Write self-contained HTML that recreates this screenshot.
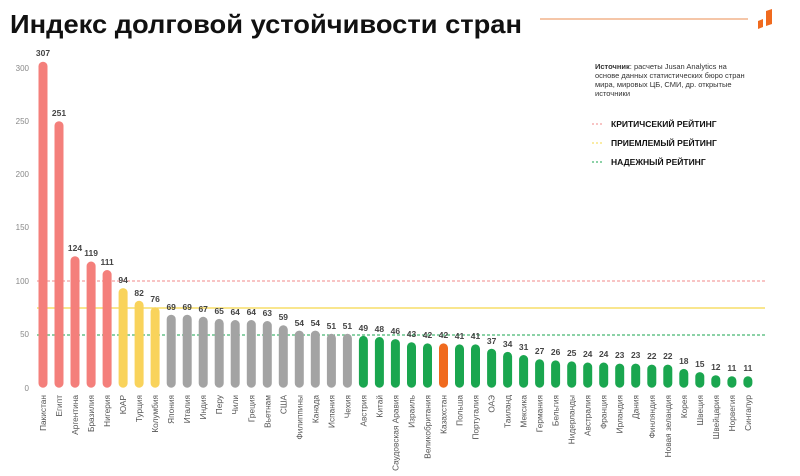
<!DOCTYPE html>
<html><head><meta charset="utf-8"><style>
html,body{margin:0;padding:0;background:#fff;}
svg{display:block;font-family:"Liberation Sans","Noto Sans CJK SC",sans-serif;}
</style></head><body>
<svg width="800" height="476" viewBox="0 0 800 476" xmlns="http://www.w3.org/2000/svg">
<text x="10" y="33" font-size="26" font-weight="bold" fill="#111" textLength="512" lengthAdjust="spacingAndGlyphs">Индекс долговой устойчивости стран</text>
<line x1="540" y1="19" x2="748" y2="19" stroke="#f2b48c" stroke-width="1.5"/>
<polygon points="766,11 772,9 772,24 766,26" fill="#f06a1e"/>
<polygon points="758,21 763,19 763,27 758,29" fill="#f06a1e"/>
<g font-size="8" fill="#888" text-anchor="end">
<text x="29" y="71">300</text><text x="29" y="124">250</text><text x="29" y="177">200</text><text x="29" y="230">150</text><text x="29" y="284">100</text><text x="29" y="337">50</text><text x="29" y="391">0</text>
</g>
<line x1="37" y1="281" x2="765" y2="281" stroke="#f08a8a" stroke-width="1" stroke-dasharray="3,2"/>
<line x1="37" y1="308" x2="765" y2="308" stroke="#f5d84a" stroke-width="1.2"/>
<line x1="37" y1="335" x2="765" y2="335" stroke="#1aa64f" stroke-width="1" stroke-dasharray="3,2"/>
<g font-size="7.5" fill="#333">
<text x="595" y="69"><tspan font-weight="bold">Источник</tspan>: расчеты Jusan Analytics на</text>
<text x="595" y="78">основе данных статистических бюро стран</text>
<text x="595" y="87">мира, мировых ЦБ, СМИ, др. открытые</text>
<text x="595" y="96">источники</text>
</g>
<line x1="592" y1="124" x2="604" y2="124" stroke="#f08a8a" stroke-dasharray="2,2"/>
<line x1="592" y1="143" x2="604" y2="143" stroke="#f5d84a" stroke-dasharray="2,2"/>
<line x1="592" y1="162" x2="604" y2="162" stroke="#1aa64f" stroke-dasharray="2,2"/>
<g font-size="8.5" font-weight="bold" fill="#111">
<text x="611" y="127">КРИТИЧСЕКИЙ РЕЙТИНГ</text>
<text x="611" y="146">ПРИЕМЛЕМЫЙ РЕЙТИНГ</text>
<text x="611" y="165">НАДЕЖНЫЙ РЕЙТИНГ</text>
</g>
<g>
<rect x="38.5" y="61.7" width="9" height="326" rx="4.5" fill="#f47f7b"/>
<rect x="54.5" y="121.2" width="9" height="266.5" rx="4.5" fill="#f47f7b"/>
<rect x="70.5" y="256.2" width="9" height="131.5" rx="4.5" fill="#f47f7b"/>
<rect x="86.6" y="261.5" width="9" height="126.2" rx="4.5" fill="#f47f7b"/>
<rect x="102.6" y="270" width="9" height="117.7" rx="4.5" fill="#f47f7b"/>
<rect x="118.6" y="288.1" width="9" height="99.6" rx="4.5" fill="#f9d35b"/>
<rect x="134.6" y="300.8" width="9" height="86.9" rx="4.5" fill="#f9d35b"/>
<rect x="150.6" y="307.2" width="9" height="80.5" rx="4.5" fill="#f9d35b"/>
<rect x="166.7" y="314.7" width="9" height="73" rx="4.5" fill="#a3a3a3"/>
<rect x="182.7" y="314.7" width="9" height="73" rx="4.5" fill="#a3a3a3"/>
<rect x="198.7" y="316.8" width="9" height="70.9" rx="4.5" fill="#a3a3a3"/>
<rect x="214.7" y="318.9" width="9" height="68.8" rx="4.5" fill="#a3a3a3"/>
<rect x="230.7" y="320" width="9" height="67.7" rx="4.5" fill="#a3a3a3"/>
<rect x="246.8" y="320" width="9" height="67.7" rx="4.5" fill="#a3a3a3"/>
<rect x="262.8" y="321" width="9" height="66.7" rx="4.5" fill="#a3a3a3"/>
<rect x="278.8" y="325.3" width="9" height="62.4" rx="4.5" fill="#a3a3a3"/>
<rect x="294.8" y="330.6" width="9" height="57.1" rx="4.5" fill="#a3a3a3"/>
<rect x="310.8" y="330.6" width="9" height="57.1" rx="4.5" fill="#a3a3a3"/>
<rect x="326.9" y="333.8" width="9" height="53.9" rx="4.5" fill="#a3a3a3"/>
<rect x="342.9" y="333.8" width="9" height="53.9" rx="4.5" fill="#a3a3a3"/>
<rect x="358.9" y="335.9" width="9" height="51.8" rx="4.5" fill="#1aa64f"/>
<rect x="374.9" y="337" width="9" height="50.7" rx="4.5" fill="#1aa64f"/>
<rect x="390.9" y="339.1" width="9" height="48.6" rx="4.5" fill="#1aa64f"/>
<rect x="407" y="342.3" width="9" height="45.4" rx="4.5" fill="#1aa64f"/>
<rect x="423" y="343.4" width="9" height="44.3" rx="4.5" fill="#1aa64f"/>
<rect x="439" y="343.4" width="9" height="44.3" rx="4.5" fill="#f06a1e"/>
<rect x="455" y="344.4" width="9" height="43.3" rx="4.5" fill="#1aa64f"/>
<rect x="471" y="344.4" width="9" height="43.3" rx="4.5" fill="#1aa64f"/>
<rect x="487.1" y="348.7" width="9" height="39" rx="4.5" fill="#1aa64f"/>
<rect x="503.1" y="351.9" width="9" height="35.8" rx="4.5" fill="#1aa64f"/>
<rect x="519.1" y="355" width="9" height="32.7" rx="4.5" fill="#1aa64f"/>
<rect x="535.1" y="359.3" width="9" height="28.4" rx="4.5" fill="#1aa64f"/>
<rect x="551.1" y="360.4" width="9" height="27.3" rx="4.5" fill="#1aa64f"/>
<rect x="567.2" y="361.4" width="9" height="26.3" rx="4.5" fill="#1aa64f"/>
<rect x="583.2" y="362.5" width="9" height="25.2" rx="4.5" fill="#1aa64f"/>
<rect x="599.2" y="362.5" width="9" height="25.2" rx="4.5" fill="#1aa64f"/>
<rect x="615.2" y="363.6" width="9" height="24.1" rx="4.5" fill="#1aa64f"/>
<rect x="631.2" y="363.6" width="9" height="24.1" rx="4.5" fill="#1aa64f"/>
<rect x="647.3" y="364.6" width="9" height="23.1" rx="4.5" fill="#1aa64f"/>
<rect x="663.3" y="364.6" width="9" height="23.1" rx="4.5" fill="#1aa64f"/>
<rect x="679.3" y="368.9" width="9" height="18.8" rx="4.5" fill="#1aa64f"/>
<rect x="695.3" y="372.1" width="9" height="15.6" rx="4.5" fill="#1aa64f"/>
<rect x="711.3" y="375.2" width="9" height="12.5" rx="4.5" fill="#1aa64f"/>
<rect x="727.4" y="376.3" width="9" height="11.4" rx="4.5" fill="#1aa64f"/>
<rect x="743.4" y="376.3" width="9" height="11.4" rx="4.5" fill="#1aa64f"/>
</g>
<g font-size="8.5" font-weight="bold" fill="#444" text-anchor="middle">
<text x="43" y="56">307</text><text x="59" y="116">251</text><text x="75" y="251">124</text><text x="91.1" y="256">119</text><text x="107.1" y="265">111</text>
<text x="123.1" y="283">94</text><text x="139.1" y="296">82</text><text x="155.1" y="302">76</text><text x="171.2" y="310">69</text><text x="187.2" y="310">69</text>
<text x="203.2" y="312">67</text><text x="219.2" y="314">65</text><text x="235.2" y="315">64</text><text x="251.3" y="315">64</text><text x="267.3" y="316">63</text>
<text x="283.3" y="320">59</text><text x="299.3" y="326">54</text><text x="315.3" y="326">54</text><text x="331.4" y="329">51</text><text x="347.4" y="329">51</text>
<text x="363.4" y="331">49</text><text x="379.4" y="332">48</text><text x="395.4" y="334">46</text><text x="411.5" y="337">43</text><text x="427.5" y="338">42</text>
<text x="443.5" y="338">42</text><text x="459.5" y="339">41</text><text x="475.5" y="339">41</text><text x="491.6" y="344">37</text><text x="507.6" y="347">34</text>
<text x="523.6" y="350">31</text><text x="539.6" y="354">27</text><text x="555.6" y="355">26</text><text x="571.7" y="356">25</text><text x="587.7" y="357">24</text>
<text x="603.7" y="357">24</text><text x="619.7" y="358">23</text><text x="635.7" y="358">23</text><text x="651.8" y="359">22</text><text x="667.8" y="359">22</text>
<text x="683.8" y="364">18</text><text x="699.8" y="367">15</text><text x="715.8" y="370">12</text><text x="731.9" y="371">11</text><text x="747.9" y="371">11</text>
</g>
<g font-size="8.3" fill="#555" text-anchor="end">
<text transform="translate(46,395) rotate(-90)">Пакистан</text>
<text transform="translate(62,395) rotate(-90)">Египт</text>
<text transform="translate(78,395) rotate(-90)">Аргентина</text>
<text transform="translate(94.1,395) rotate(-90)">Бразилия</text>
<text transform="translate(110.1,395) rotate(-90)">Нигерия</text>
<text transform="translate(126.1,395) rotate(-90)">ЮАР</text>
<text transform="translate(142.1,395) rotate(-90)">Турция</text>
<text transform="translate(158.1,395) rotate(-90)">Колумбия</text>
<text transform="translate(174.2,395) rotate(-90)">Япония</text>
<text transform="translate(190.2,395) rotate(-90)">Италия</text>
<text transform="translate(206.2,395) rotate(-90)">Индия</text>
<text transform="translate(222.2,395) rotate(-90)">Перу</text>
<text transform="translate(238.2,395) rotate(-90)">Чили</text>
<text transform="translate(254.3,395) rotate(-90)">Греция</text>
<text transform="translate(270.3,395) rotate(-90)">Вьетнам</text>
<text transform="translate(286.3,395) rotate(-90)">США</text>
<text transform="translate(302.3,395) rotate(-90)">Филиппины</text>
<text transform="translate(318.3,395) rotate(-90)">Канада</text>
<text transform="translate(334.4,395) rotate(-90)">Испания</text>
<text transform="translate(350.4,395) rotate(-90)">Чехия</text>
<text transform="translate(366.4,395) rotate(-90)">Австрия</text>
<text transform="translate(382.4,395) rotate(-90)">Китай</text>
<text transform="translate(398.4,395) rotate(-90)">Саудовская Аравия</text>
<text transform="translate(414.5,395) rotate(-90)">Израиль</text>
<text transform="translate(430.5,395) rotate(-90)">Великобритания</text>
<text transform="translate(446.5,395) rotate(-90)">Казахстан</text>
<text transform="translate(462.5,395) rotate(-90)">Польша</text>
<text transform="translate(478.5,395) rotate(-90)">Португалия</text>
<text transform="translate(494.6,395) rotate(-90)">ОАЭ</text>
<text transform="translate(510.6,395) rotate(-90)">Таиланд</text>
<text transform="translate(526.6,395) rotate(-90)">Мексика</text>
<text transform="translate(542.6,395) rotate(-90)">Германия</text>
<text transform="translate(558.6,395) rotate(-90)">Бельгия</text>
<text transform="translate(574.7,395) rotate(-90)">Нидерланды</text>
<text transform="translate(590.7,395) rotate(-90)">Австралия</text>
<text transform="translate(606.7,395) rotate(-90)">Франция</text>
<text transform="translate(622.7,395) rotate(-90)">Ирландия</text>
<text transform="translate(638.7,395) rotate(-90)">Дания</text>
<text transform="translate(654.8,395) rotate(-90)">Финляндия</text>
<text transform="translate(670.8,395) rotate(-90)">Новая зеландия</text>
<text transform="translate(686.8,395) rotate(-90)">Корея</text>
<text transform="translate(702.8,395) rotate(-90)">Швеция</text>
<text transform="translate(718.8,395) rotate(-90)">Швейцария</text>
<text transform="translate(734.9,395) rotate(-90)">Норвегия</text>
<text transform="translate(750.9,395) rotate(-90)">Сингапур</text>
</g>
</svg>
</body></html>
